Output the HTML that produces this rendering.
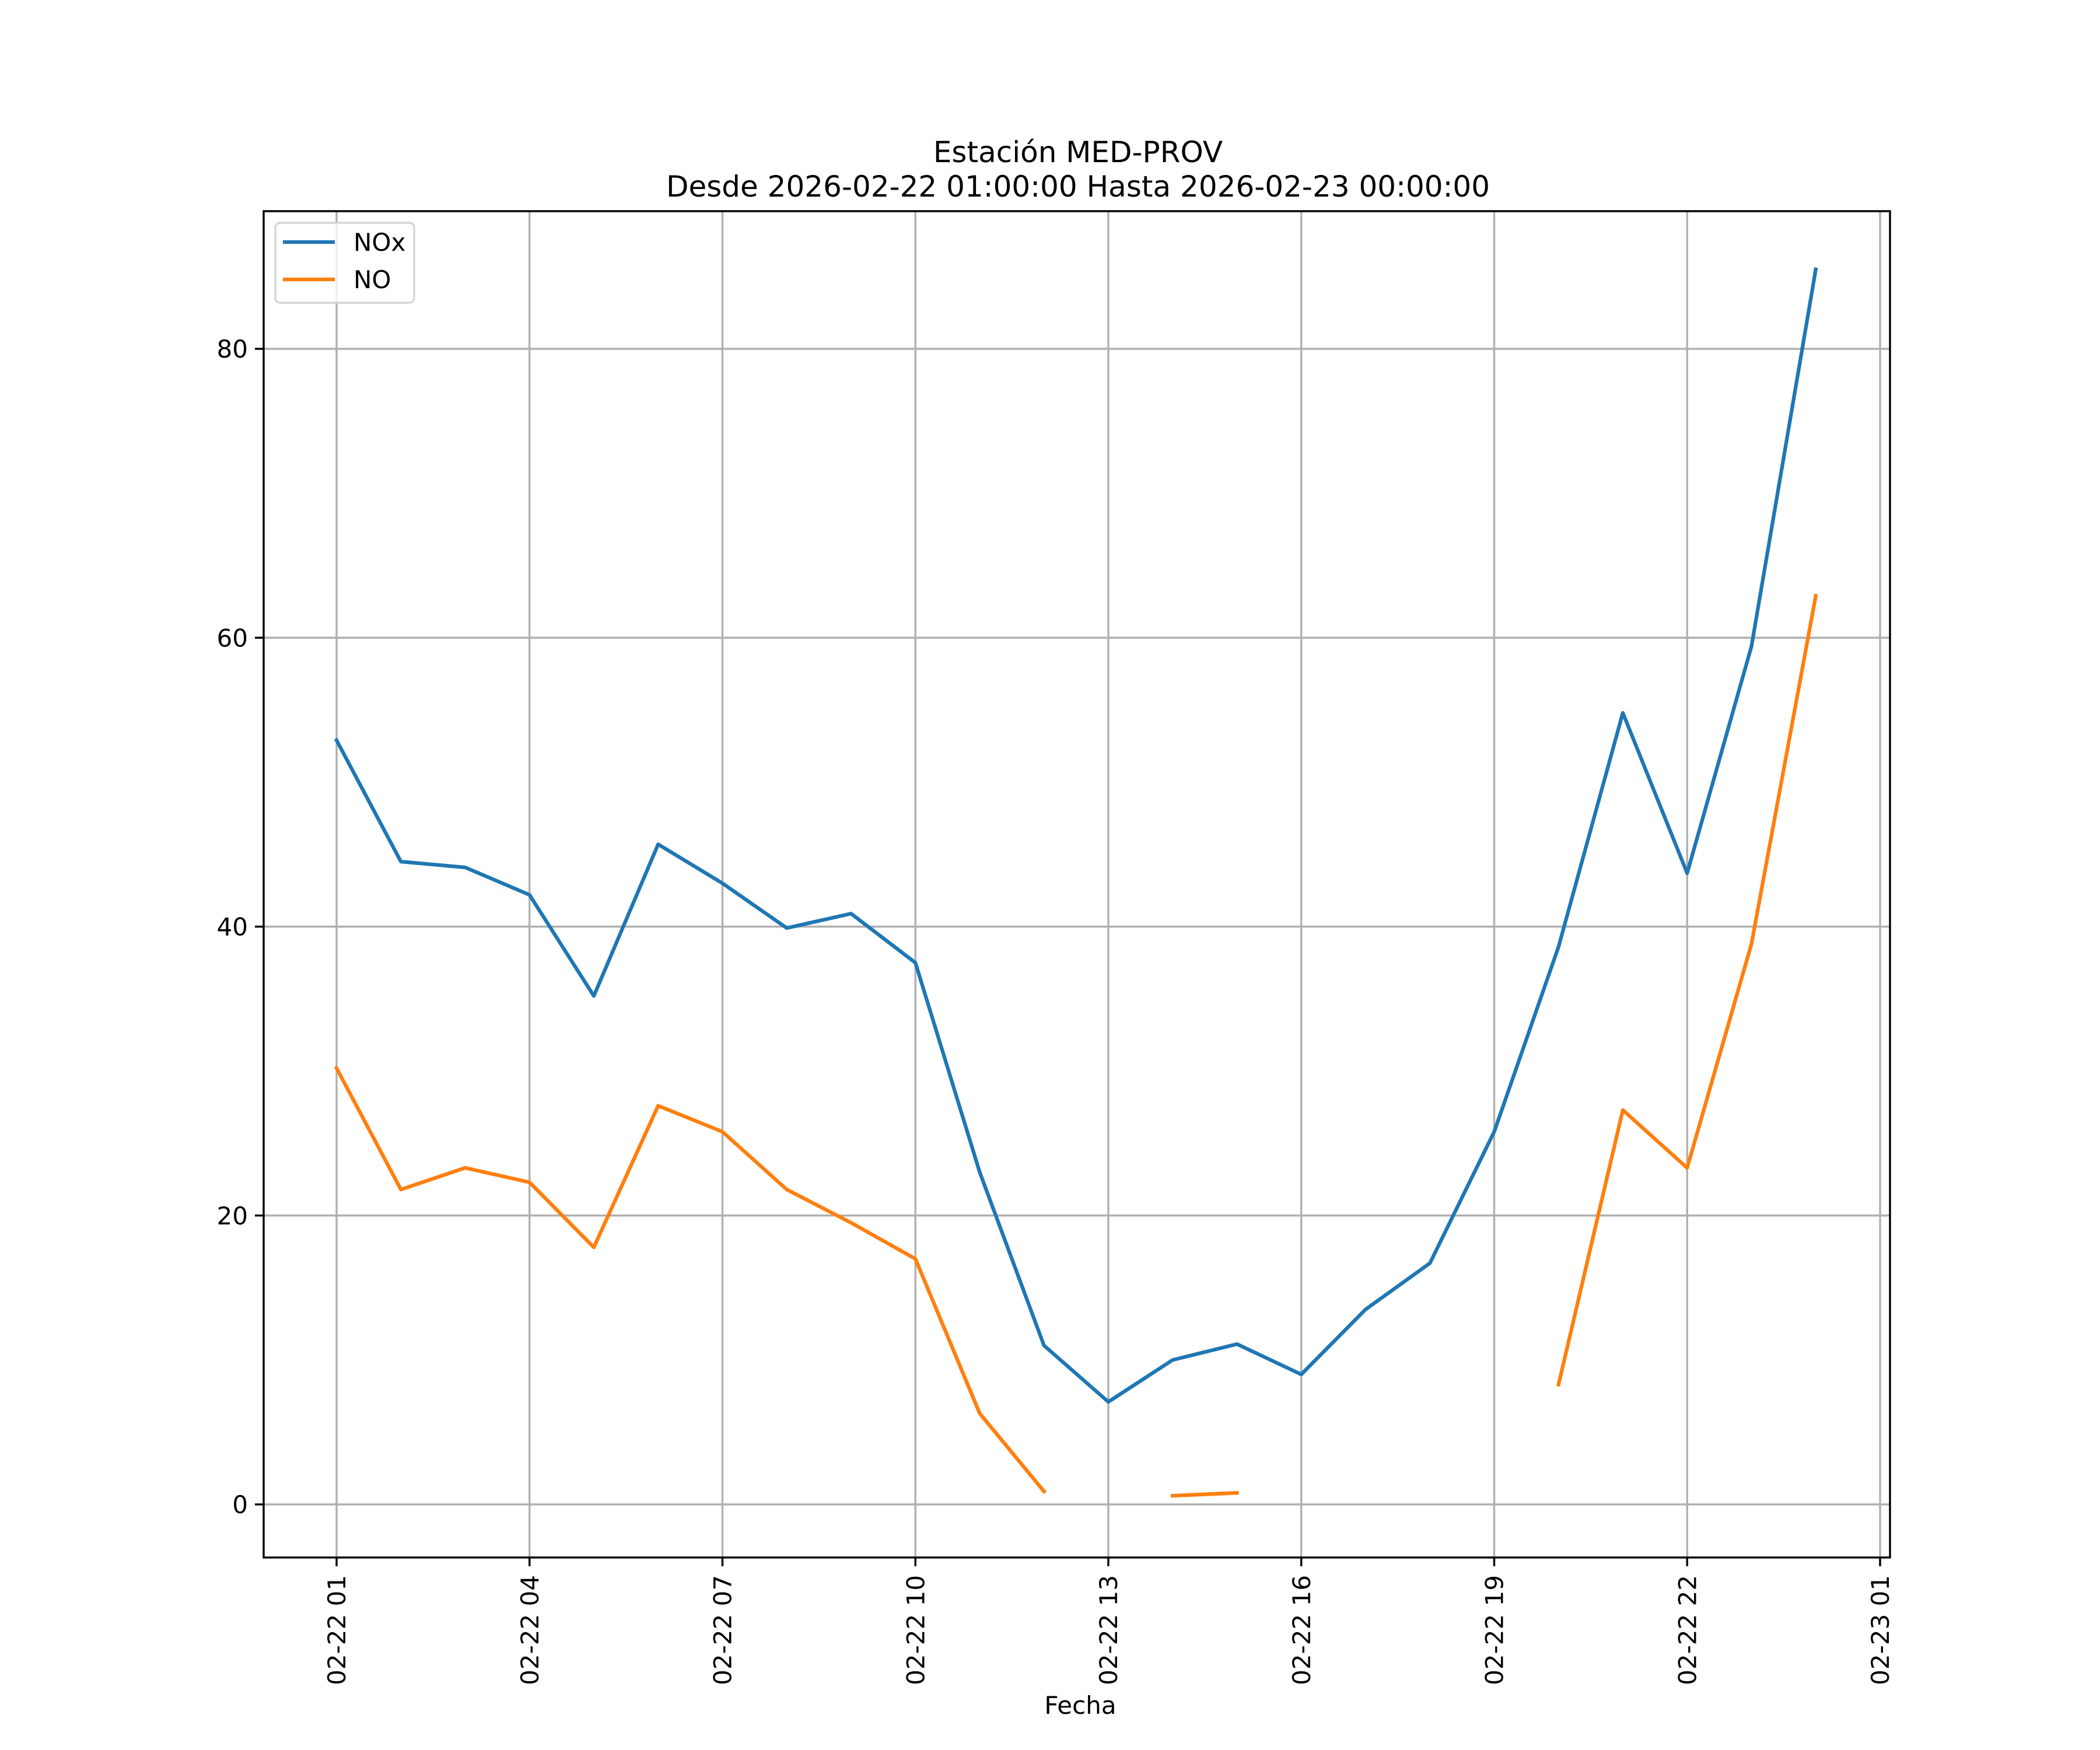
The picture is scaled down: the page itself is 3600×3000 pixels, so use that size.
<!DOCTYPE html>
<html><head><meta charset="utf-8"><style>
html,body{margin:0;padding:0;background:#fff}
svg{display:block;font-family:"DejaVu Sans","Liberation Sans",sans-serif}
</style></head><body>
<svg id="chart" width="3600" height="3000" viewBox="0 0 3600 3000" xmlns="http://www.w3.org/2000/svg">
<rect width="3600" height="3000" fill="#fff"/>
<text x="1848" y="278" font-size="50" text-anchor="middle">Estación MED-PROV</text>
<text x="1848" y="337" font-size="50" text-anchor="middle">Desde 2026-02-22 01:00:00 Hasta 2026-02-23 00:00:00</text>
<g id="grid"></g>
<g id="series"></g>
<rect x="452" y="362" width="2788" height="2308" fill="none" stroke="#000" stroke-width="3.4"/>
<g id="ticks"></g>
<text x="1852" y="2938" font-size="42" text-anchor="middle">Fecha</text>
<g>
<rect x="472" y="382" width="238" height="137" rx="8" fill="#fff" fill-opacity="0.8" stroke="#d5d5d5" stroke-width="3.4"/>
<line x1="485" y1="415" x2="574" y2="415" stroke="#1f77b4" stroke-width="6.3"/>
<text x="606" y="430" font-size="42">NOx</text>
<line x1="485" y1="479" x2="574" y2="479" stroke="#ff7f0e" stroke-width="6.3"/>
<text x="606" y="494" font-size="42">NO</text>
</g>
</svg>
<script>
const hours=[1,2,3,4,5,6,7,8,9,10,11,12,13,14,15,16,17,18,19,20,21,22,23,24];
const noxValues=[52.9,44.5,44.1,42.2,35.2,45.7,43.0,39.9,40.9,37.5,23.0,11.0,7.1,10.0,11.1,9.0,13.5,16.7,25.8,38.6,54.8,43.7,59.4,85.5];
const noValues=[30.2,21.8,23.3,22.3,17.8,27.6,25.8,21.8,19.5,17.0,6.3,0.9,null,0.6,0.8,null,null,null,null,8.3,27.3,23.3,38.8,62.9];
const xTickHours=[1,4,7,10,13,16,19,22,25];
const xTickLabels=["02-22 01","02-22 04","02-22 07","02-22 10","02-22 13","02-22 16","02-22 19","02-22 22","02-23 01"];
const yTicks=[0,20,40,60,80];
const NS="http://www.w3.org/2000/svg";
function xs(h){return 577+(h-1)*110.25;}
function ys(v){return 2579-v*24.7625;}
function mk(tag,attrs,parent){const e=document.createElementNS(NS,tag);for(const k in attrs)e.setAttribute(k,attrs[k]);parent.appendChild(e);return e;}
const grid=document.getElementById('grid'),ticks=document.getElementById('ticks'),series=document.getElementById('series');
xTickHours.forEach((h,i)=>{
  const x=xs(h);
  const g=mk('line',{x1:x,y1:362,x2:x,y2:2670,stroke:'#b0b0b0','stroke-width':3.4},grid);
  
  
  const t=mk('line',{x1:x,y1:2670,x2:x,y2:2685,stroke:'#000','stroke-width':3.4},ticks);
  
  
  const l=mk('text',{x:0,y:0,'font-size':42,'text-anchor':'end',transform:`translate(${x+15},2700) rotate(-90)`},ticks);
  l.textContent=xTickLabels[i];
  
  
});
yTicks.forEach(v=>{
  const y=ys(v);
  const g=mk('line',{x1:452,y1:y,x2:3240,y2:y,stroke:'#b0b0b0','stroke-width':3.4},grid);
  
  
  const t=mk('line',{x1:437,y1:y,x2:452,y2:y,stroke:'#000','stroke-width':3.4},ticks);
  
  
  const l=mk('text',{x:425,y:y+15,'font-size':42,'text-anchor':'end'},ticks);
  l.textContent=String(v);
  
  
});
function drawSeries(vals,color,name){
  let segs=[],cur=[];
  vals.forEach((v,i)=>{if(v==null){if(cur.length)segs.push(cur);cur=[];}else cur.push([xs(hours[i]),ys(v)]);});
  if(cur.length)segs.push(cur);
  segs.forEach(s=>{
    if(s.length<2)return;
    const p=mk('polyline',{points:s.map(q=>q.join(',')).join(' '),fill:'none',stroke:color,'stroke-width':6.3,'stroke-linejoin':'round','stroke-linecap':'square'},series);
    
    
  });
}
drawSeries(noxValues,'#1f77b4','nox-line');
drawSeries(noValues,'#ff7f0e','no-line');
</script>
</body></html>
